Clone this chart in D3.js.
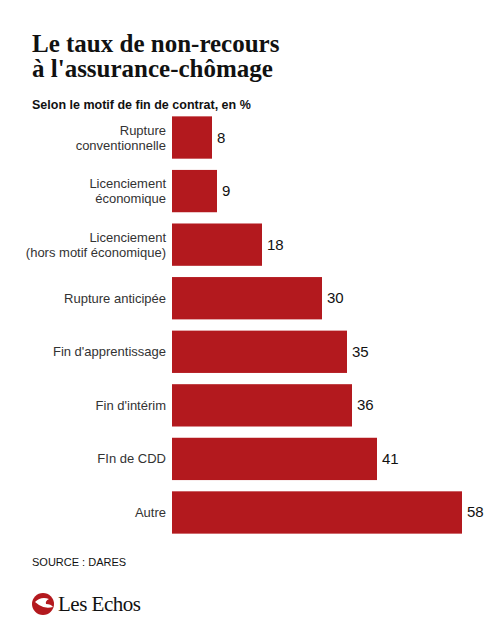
<!DOCTYPE html>
<html><head><meta charset="utf-8">
<script src="https://cdn.jsdelivr.net/npm/d3@7"></script>
<style>body{margin:0;background:#fff}</style></head>
<body><svg id="c" width="500" height="625"></svg>
<script>
const categories = [["Rupture","conventionnelle"],["Licenciement","économique"],["Licenciement","(hors motif économique)"],["Rupture anticipée"],["Fin d'apprentissage"],["Fin d'intérim"],["FIn de CDD"],["Autre"]];
const values = [8, 9, 18, 30, 35, 36, 41, 58];
const svg = d3.select("#c");
const x = d3.scaleLinear().domain([0, 58]).range([172, 462]);
const y = d3.scaleBand().domain(d3.range(values.length)).range([111, 539]).paddingInner(0.21).paddingOuter(0.1);
svg.append("text").attr("x",32).attr("y",52).attr("font-family","Liberation Serif, serif").attr("font-weight","bold").attr("font-size",25).attr("fill","#111").text("Le taux de non-recours");
svg.append("text").attr("x",32).attr("y",77).attr("font-family","Liberation Serif, serif").attr("font-weight","bold").attr("font-size",25).attr("fill","#111").text("à l'assurance-chômage");
svg.append("text").attr("x",32).attr("y",109).attr("font-family","Liberation Sans, Arial").attr("font-weight","bold").attr("font-size",12.5).attr("fill","#111").text("Selon le motif de fin de contrat, en %");
const g = svg.selectAll("g.row").data(values).join("g");
g.append("rect").attr("x",x(0)).attr("y",(d,i)=>y(i)).attr("width",d=>x(d)-x(0)).attr("height",y.bandwidth()).attr("fill","#b3191e");
g.append("text").attr("x",d=>x(d)+5).attr("y",(d,i)=>y(i)+y.bandwidth()/2+5).attr("font-family","Liberation Sans, Arial").attr("font-size",15).attr("fill","#111").text(d=>d);
g.each(function(d,i){
  const lines = categories[i];
  const t = d3.select(this).append("text").attr("text-anchor","end").attr("font-family","Liberation Sans, Arial").attr("font-size",13).attr("fill","#333");
  const c = y(i)+y.bandwidth()/2;
  lines.forEach((l,k)=>t.append("tspan").attr("x",166).attr("y",c+4.5+(k-(lines.length-1)/2)*15).text(l));
});
svg.append("text").attr("x",32).attr("y",566).attr("font-family","Liberation Sans, Arial").attr("font-size",11).attr("fill","#111").text("SOURCE : DARES");
svg.append("circle").attr("cx",43).attr("cy",604).attr("r",11).attr("fill","#b3191e");
svg.append("path").attr("d","M35,602 q6,-6 14,-3 q-4,2 -3,5 q5,0 7,3 q-8,2 -14,-2 z").attr("fill","#fff");
svg.append("text").attr("x",58).attr("y",611).attr("font-family","Liberation Serif, serif").attr("font-size",21).attr("fill","#111").attr("letter-spacing",-0.5).text("Les Echos");
</script></body></html>
